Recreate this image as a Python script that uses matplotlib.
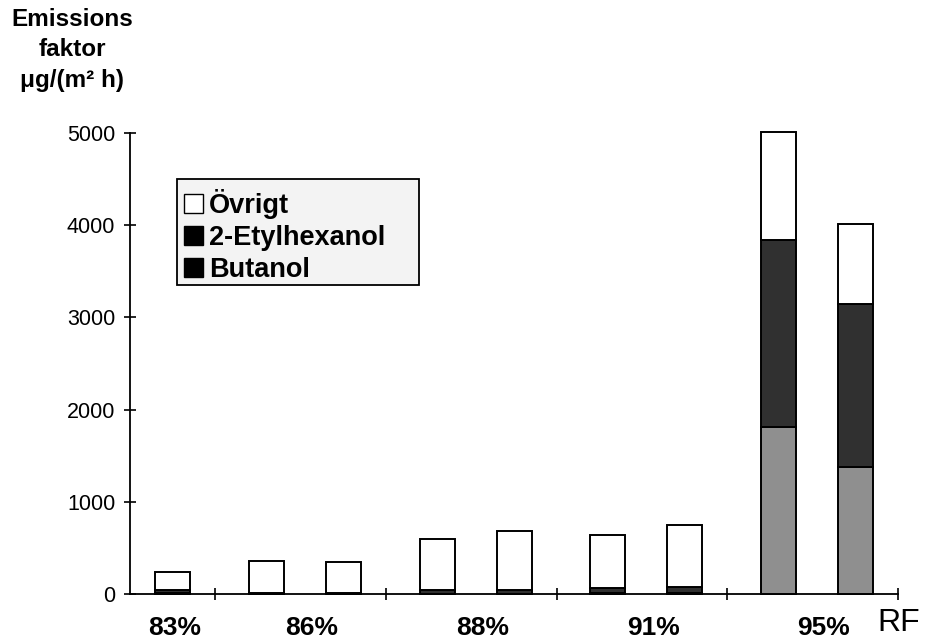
import numpy as np
import matplotlib
matplotlib.use("Agg")
import matplotlib.pyplot as plt
import matplotlib.patches as pat

plt.rcParams['font.family'] = ['Liberation Sans', 'DejaVu Sans']

# one bar per measurement, two per RF level (only one at 83%)
rf_labels = ["83%", "86%", "88%", "91%", "95%"]
bar_group = [0, 1, 1, 2, 2, 3, 3, 4, 4]
butanol = [10, 5, 5, 5, 5, 10, 10, 1810, 1380]
etylhexanol = [30, 5, 5, 35, 35, 50, 65, 2030, 1770]
ovrigt = [200, 350, 335, 555, 645, 585, 670, 1170, 860]
series_names = ["Butanol", "2-Etylhexanol", "Övrigt"]
colors = ["#8f8f8f", "#303030", "white"]

fig = plt.figure(figsize=(9.27, 6.43), dpi=100)
ax = fig.add_axes([0.140, 0.0762, 0.829, 0.717])

# first bar of each pair sits a bit to the right
x = np.arange(len(butanol), dtype=float)
for i in range(1, len(x)):
    if bar_group[i] != bar_group[i - 1]:
        x[i] += 0.1

bottom = np.zeros(len(x))
bars = []
for vals, name, c in zip([butanol, etylhexanol, ovrigt], series_names, colors):
    b = ax.bar(x, vals, width=0.41, bottom=bottom, color=c, edgecolor="black",
               linewidth=1.4, label=name, clip_on=False, zorder=3)
    bars.append(b)
    bottom += np.array(vals)

ax.set_xlim(-0.5, len(x) - 0.5)
ax.set_ylim(0, 5000)
ax.spines['top'].set_visible(False)
ax.spines['right'].set_visible(False)
ax.spines['left'].set_linewidth(1.3)
ax.spines['bottom'].set_linewidth(1.3)

ax.set_yticks([0, 1000, 2000, 3000, 4000, 5000])
ax.tick_params(axis='y', direction='inout', length=9, width=1.2,
               labelsize=15.5, pad=6)
ax.set_xticks([0.5, 2.5, 4.5, 6.5, 8.5])
ax.set_xticklabels([])
ax.tick_params(axis='x', direction='inout', length=9, width=1.2)

# RF labels under each group
groups = np.array(bar_group)
for g, lab in enumerate(rf_labels):
    cx = x[groups == g].mean()
    if (groups == g).sum() > 1:
        cx += 0.08
    else:
        cx += 0.03
    xd = ax.transData.transform((cx, 0))[0] / fig.bbox.width
    fig.text(xd, 0.013, lab, ha='center', va='baseline', fontsize=19,
             fontweight='bold')
fig.text(0.969, 0.018, "RF", ha='center', va='baseline', fontsize=23)

fig.text(0.078, 0.988, "Emissions\nfaktor\nμg/(m² h)", ha='center', va='top',
         fontsize=17.5, fontweight='bold', linespacing=1.42)

# legend box drawn separately so its padding matches the original
box = pat.Rectangle((0.0612, 0.670), 0.315, 0.230, transform=ax.transAxes,
                    facecolor='#f3f3f3', edgecolor='black', linewidth=1.3,
                    zorder=4)
ax.add_patch(box)

handles = [bars[2], bars[1], bars[0]]
leg = ax.legend(handles, [series_names[2], series_names[1], series_names[0]],
                loc='upper left', bbox_to_anchor=(0.071, 0.878),
                prop={'size': 19.5, 'weight': 'bold'}, frameon=False,
                handlelength=0.7, handleheight=0.7, handletextpad=0.2,
                labelspacing=0.22, borderpad=0.0, borderaxespad=0)
leg.set_zorder(5)
for p in leg.get_patches()[1:]:
    p.set_facecolor('black')
for p in leg.get_patches():
    p.set_linewidth(1.0)

fig.savefig("out.png", dpi=100)
